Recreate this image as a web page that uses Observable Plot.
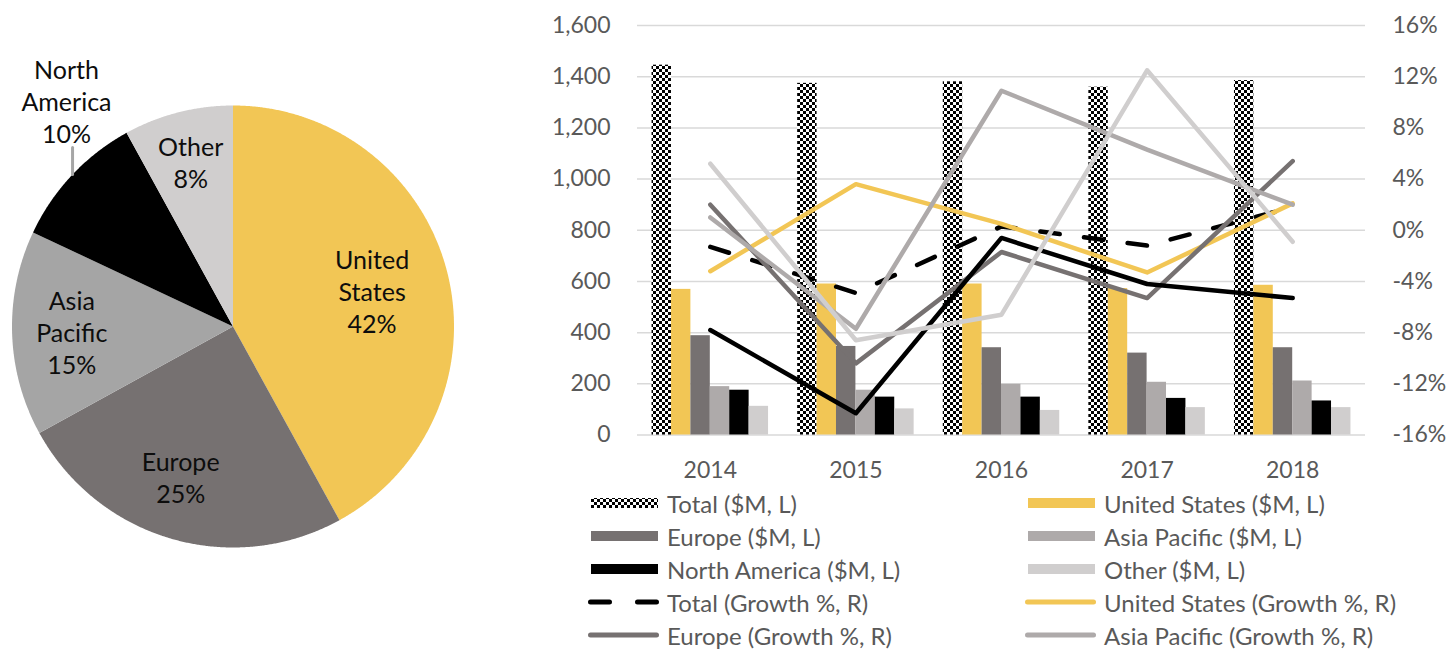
<!DOCTYPE html>
<html><head><meta charset="utf-8">
<script src="https://cdn.jsdelivr.net/npm/d3@7"></script>
<script src="https://cdn.jsdelivr.net/npm/@observablehq/plot@0.6"></script>
<style>
html,body{margin:0;padding:0;background:#fff;width:1447px;height:649px;overflow:hidden;font-family:Lato,"Noto Sans",sans-serif;}
#pie{position:absolute;left:0;top:0;width:465px;height:649px;}
#combo{position:absolute;left:530px;top:0;width:917px;height:490px;}
#legend{position:absolute;left:0;top:0;width:1447px;height:649px;pointer-events:none;}
.item{position:absolute;display:flex;align-items:center;font-size:24px;color:#595959;white-space:nowrap;height:32px;}
.item svg{margin-right:8px;flex:none;}
</style></head><body>
<div id="pie"></div><div id="combo"></div><div id="legend"></div>
<script>
// ---------- data ----------
const years = ["2014", "2015", "2016", "2017", "2018"];
const seriesNames = ["Total", "United States", "Europe", "Asia Pacific", "North America", "Other"];
// revenue, $M (left axis)
const totalM  = [1445, 1374, 1380, 1359, 1385];
const usM     = [569, 590, 590, 572, 585];
const europeM = [388, 346, 341, 320, 341];
const asiaM   = [189, 175, 198, 206, 211];
const naM     = [175, 148, 148, 143, 133];
const otherM  = [112, 102, 96, 107, 107];
// growth, % (right axis)
const totalG  = [-1.3, -4.9, 0.3, -1.2, 1.8];
const usG     = [-3.2, 3.6, 0.5, -3.3, 2.1];
const europeG = [2.0, -10.4, -1.7, -5.3, 5.4];
const asiaG   = [1.0, -7.7, 10.9, 6.3, 2.0];
const naG     = [-7.8, -14.3, -0.6, -4.2, -5.3];
const otherG  = [5.2, -8.6, -6.6, 12.5, -0.9];
// pie (2018 share)
const pieNames  = ["United States", "Europe", "Asia Pacific", "North America", "Other"];
const pieShares = [42, 25, 15, 10, 8];
// axis ticks
const leftTicks  = [0, 200, 400, 600, 800, 1000, 1200, 1400, 1600];
const rightTicks = [-16, -12, -8, -4, 0, 4, 8, 12, 16];

// ---------- styles ----------
const barColor = {"Total": "url(#checker)", "United States": "#F2C655", "Europe": "#767171", "Asia Pacific": "#AEAAAA", "North America": "#000000", "Other": "#D0CECE"};
const lineColor = {"Total": "#000000", "United States": "#F2C655", "Europe": "#767171", "Asia Pacific": "#AEAAAA", "North America": "#000000", "Other": "#D0CECE"};
const pieColor = {"United States": "#F2C655", "Europe": "#767171", "Asia Pacific": "#A5A5A5", "North America": "#000000", "Other": "#D0CECE"};
const FONT = "Lato, 'Noto Sans', sans-serif";

// ---------- combo chart ----------
const revenue = [totalM, usM, europeM, asiaM, naM, otherM];
const growth = [totalG, usG, europeG, asiaG, naG, otherG];
const barRows = [];
seriesNames.forEach((s, j) => years.forEach((y, i) => barRows.push({series: s, i, j, value: revenue[j][i]})));
const lineRows = [];
seriesNames.forEach((s, j) => years.forEach((y, i) => lineRows.push({series: s, i, g: growth[j][i]})));
const toLeft = p => (p + 16) * 50;   // map right-axis % onto left-axis units
const pad = 0.1, bw = 0.8 / seriesNames.length;

const combo = Plot.plot({
  width: 917, height: 490,
  marginLeft: 107, marginRight: 82, marginTop: 25, marginBottom: 55.5,
  x: {domain: [0, years.length]},
  y: {domain: [0, 1600]},
  style: {fontFamily: FONT, fontSize: "23px", color: "#595959", background: "transparent", overflow: "visible"},
  marks: [
    Plot.gridY(leftTicks, {stroke: "#D9D9D9", strokeOpacity: 1, strokeWidth: 1.5}),
    ...seriesNames.map(s => Plot.rectY(barRows.filter(d => d.series === s), {
      x1: d => d.i + pad + d.j * bw, x2: d => d.i + pad + (d.j + 1) * bw,
      y: "value", fill: barColor[s], inset: 0
    })),
    ...seriesNames.map(s => Plot.line(lineRows.filter(d => d.series === s), {
      x: d => d.i + 0.5, y: d => toLeft(d.g),
      stroke: lineColor[s], strokeWidth: 4.5, strokeLinecap: "round", strokeLinejoin: "round",
      strokeDasharray: s === "Total" ? "19.5 24.5" : null
    })),
    Plot.axisY(leftTicks, {anchor: "left", tickSize: 0, tickPadding: 27, tickFormat: d3.format(","), label: null}),
    Plot.axisY(rightTicks.map(toLeft), {anchor: "right", tickSize: 0, tickPadding: 27, tickFormat: d => Math.round(d / 50 - 16) + "%", label: null}),
    Plot.axisX(years.map((y, i) => i + 0.5), {anchor: "bottom", tickSize: 0, tickPadding: 27, tickFormat: d => years[Math.floor(d)], label: null})
  ]
});
// checkerboard pattern for the Total bars
d3.select(combo).insert("defs", ":first-child").html(
  '<pattern id="checker" patternUnits="userSpaceOnUse" width="6" height="6">' +
  '<rect width="6" height="6" fill="#fff"/><rect width="3" height="3" fill="#000"/><rect x="3" y="3" width="3" height="3" fill="#000"/></pattern>');
document.getElementById("combo").append(combo);

// ---------- pie ----------
const arcs = d3.pie().sort(null).value(d => d.share)(pieNames.map((n, k) => ({name: n, share: pieShares[k]})));
const pt = (a, r) => [r * Math.sin(a), -r * Math.cos(a)];
const deg = Math.PI / 180;
const slices = arcs.map(a => {
  const pts = [[0, 0]];
  const n = Math.max(2, Math.ceil((a.endAngle - a.startAngle) / 0.005));
  for (let k = 0; k <= n; k++) pts.push(pt(a.startAngle + (a.endAngle - a.startAngle) * k / n, 1));
  pts.push([0, 0]);
  return {name: a.data.name, geometry: {type: "Polygon", coordinates: [pts]}};
});
const circle = {type: "Polygon", coordinates: [d3.range(0, 361, 2).map(d => pt(d * deg, 1))]};
// label placement (layout): radius factor and angle shift in degrees
const labelPos = {"United States": [0.65, 0], "Europe": [0.72, 3], "Asia Pacific": [0.73, 0], "Other": [0.77, 0]};
const labels = arcs.map(a => {
  const mid = (a.startAngle + a.endAngle) / 2;
  let p;
  if (a.data.name === "North America") p = pt(323.6 * deg, 1.27);   // outside label with leader line
  else p = pt(mid + labelPos[a.data.name][1] * deg, labelPos[a.data.name][0]);
  return {x: p[0], y: p[1], text: a.data.name.split(" ").join("\n") + "\n" + a.data.share + "%"};
});
const leaderX = -0.726;
const leader = {type: "LineString", coordinates: [[leaderX, -0.81], pt(Math.asin(leaderX) + 2 * Math.PI, 1)]};

const pie = Plot.plot({
  width: 465, height: 649,
  marginLeft: 11.5, marginRight: 11.5, marginTop: 105, marginBottom: 102,
  projection: {type: "identity", domain: circle, clip: false},
  style: {fontFamily: FONT, background: "transparent", overflow: "visible"},
  marks: [
    ...slices.map(s => Plot.geo([s.geometry], {fill: pieColor[s.name], stroke: "none"})),
    Plot.geo([leader], {stroke: "#A6A6A6", strokeWidth: 3, fill: "none"}),
    Plot.text(labels, {x: "x", y: "y", text: "text", fontSize: 25, lineHeight: 1.28, fill: "#0D0D0D", textAnchor: "middle", lineAnchor: "middle"})
  ]
});
document.getElementById("pie").append(pie);

// ---------- legend ----------
const legendItems = [
  {label: "Total ($M, L)", kind: "bar", s: "Total"},
  {label: "United States ($M, L)", kind: "bar", s: "United States"},
  {label: "Europe ($M, L)", kind: "bar", s: "Europe"},
  {label: "Asia Pacific ($M, L)", kind: "bar", s: "Asia Pacific"},
  {label: "North America ($M, L)", kind: "bar", s: "North America"},
  {label: "Other ($M, L)", kind: "bar", s: "Other"},
  {label: "Total (Growth %, R)", kind: "dash", s: "Total"},
  {label: "United States (Growth %, R)", kind: "line", s: "United States"},
  {label: "Europe (Growth %, R)", kind: "line", s: "Europe"},
  {label: "Asia Pacific (Growth %, R)", kind: "line", s: "Asia Pacific"}
];
const legend = document.getElementById("legend");
const colX = [588, 1025], rowY0 = 503, rowStep = 33;
legendItems.forEach((it, k) => {
  const col = k % 2, row = Math.floor(k / 2);
  const div = document.createElement("div");
  div.className = "item";
  div.style.left = colX[col] + "px";
  div.style.top = (rowY0 + row * rowStep - 16) + "px";
  let sw;
  if (it.kind === "bar") {
    const fill = it.s === "Total" ? "url(#checkerL)" : barColor[it.s];
    sw = `<svg width="71" height="14"><defs><pattern id="checkerL" patternUnits="userSpaceOnUse" width="6" height="6"><rect width="6" height="6" fill="#fff"/><rect width="3" height="3" fill="#000"/><rect x="3" y="3" width="3" height="3" fill="#000"/></pattern></defs><rect x="3" y="2" width="67" height="10" fill="${fill}"/></svg>`;
  } else {
    const dash = it.kind === "dash" ? 'stroke-dasharray="19 28"' : "";
    sw = `<svg width="71" height="14"><line x1="2.5" x2="68.5" y1="7" y2="7" stroke="${lineColor[it.s]}" stroke-width="5" stroke-linecap="round" ${dash}/></svg>`;
  }
  div.innerHTML = sw + `<span>${it.label}</span>`;
  legend.append(div);
});
</script>
</body></html>
